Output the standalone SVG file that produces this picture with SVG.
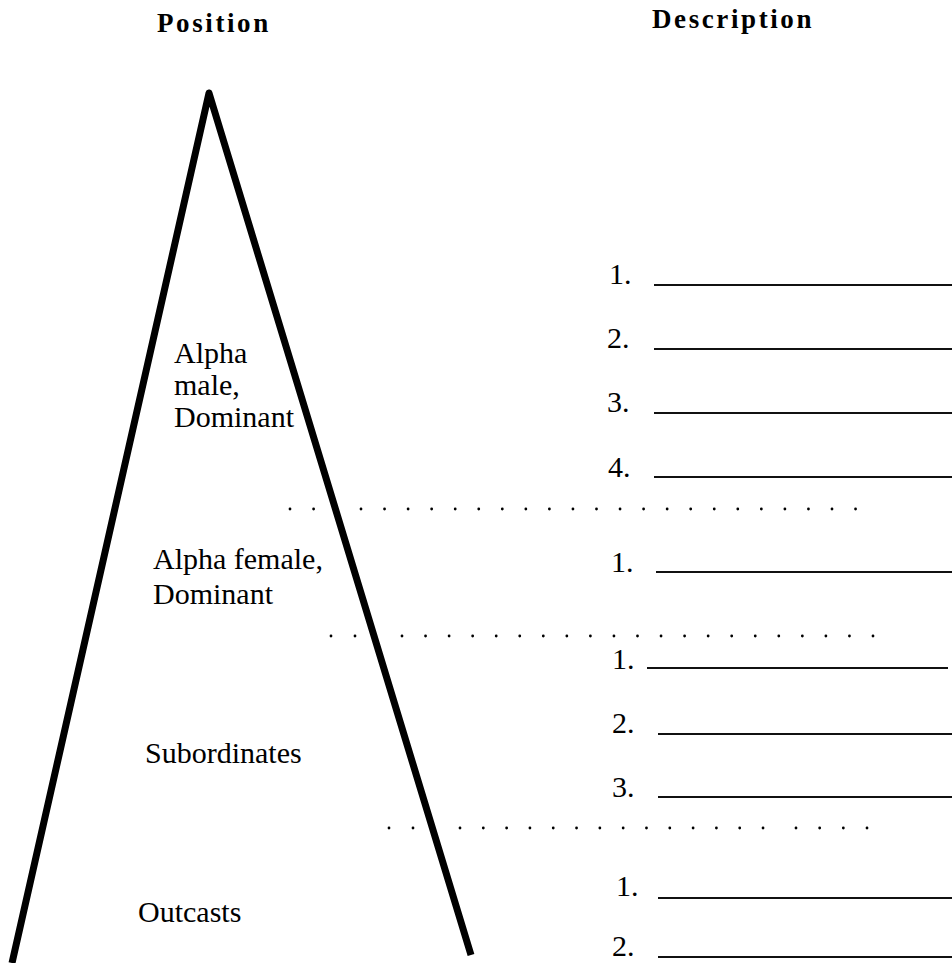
<svg xmlns="http://www.w3.org/2000/svg" width="952" height="963" viewBox="0 0 952 963">
<style>
.hdr{font-family:"Liberation Serif","Times New Roman",serif;font-weight:bold;font-size:27px;letter-spacing:2.6px;fill:#000}
.lbl{font-family:"Liberation Serif","Times New Roman",serif;font-size:30px;fill:#000}
.num{font-family:"Liberation Serif","Times New Roman",serif;font-size:30px;fill:#000}
.blank{stroke:#111;stroke-width:2;fill:none}
.dots{stroke:#000;stroke-width:2.8;stroke-linecap:round;fill:none}
.tri{stroke:#000;stroke-width:7;fill:none;stroke-linejoin:round;stroke-linecap:butt}
</style>
<rect width="952" height="963" fill="#fff"/>
<g id="headers">
<text class="hdr" x="157" y="32">Position</text>
<text class="hdr" x="652" y="28">Description</text>
</g>
<g id="pyramid">
<polyline class="tri" points="12,963 209,93 471,955"/>
</g>
<g id="connectors">
<line class="dots" x1="290" y1="509" x2="314" y2="509" stroke-dasharray="0 23.6"/>
<line class="dots" x1="361" y1="509" x2="856" y2="509" stroke-dasharray="0 23.55"/>
<line class="dots" x1="331" y1="636" x2="356" y2="636" stroke-dasharray="0 24"/>
<line class="dots" x1="402" y1="636" x2="874" y2="636" stroke-dasharray="0 23.55"/>
<line class="dots" x1="389" y1="828" x2="414" y2="828" stroke-dasharray="0 24"/>
<line class="dots" x1="460" y1="828" x2="764" y2="828" stroke-dasharray="0 23.31"/>
<line class="dots" x1="796" y1="828" x2="868" y2="828" stroke-dasharray="0 23.67"/>
</g>
<g id="alpha-male">
<text class="lbl" x="174" y="363">Alpha</text>
<text class="lbl" x="174" y="395">male,</text>
<text class="lbl" x="174" y="427">Dominant</text>
<text class="num" x="609" y="284">1.</text>
<line class="blank" x1="654" y1="285" x2="952" y2="285"/>
<text class="num" x="607" y="348">2.</text>
<line class="blank" x1="654" y1="349" x2="952" y2="349"/>
<text class="num" x="607" y="412">3.</text>
<line class="blank" x1="654" y1="413" x2="952" y2="413"/>
<text class="num" x="608" y="477">4.</text>
<line class="blank" x1="654" y1="477" x2="952" y2="477"/>
</g>
<g id="alpha-female">
<text class="lbl" x="153" y="569">Alpha female,</text>
<text class="lbl" x="153" y="604">Dominant</text>
<text class="num" x="611" y="572">1.</text>
<line class="blank" x1="656" y1="572" x2="952" y2="572"/>
</g>
<g id="subordinates">
<text class="lbl" x="145" y="763">Subordinates</text>
<text class="num" x="612" y="669">1.</text>
<line class="blank" x1="647" y1="668" x2="948" y2="668"/>
<text class="num" x="612" y="733">2.</text>
<line class="blank" x1="658" y1="734" x2="952" y2="734"/>
<text class="num" x="612" y="797">3.</text>
<line class="blank" x1="658" y1="797" x2="952" y2="797"/>
</g>
<g id="outcasts">
<text class="lbl" x="138" y="922">Outcasts</text>
<text class="num" x="616" y="896">1.</text>
<line class="blank" x1="658" y1="898" x2="952" y2="898"/>
<text class="num" x="612" y="956">2.</text>
<line class="blank" x1="658" y1="957" x2="952" y2="957"/>
</g>
</svg>
